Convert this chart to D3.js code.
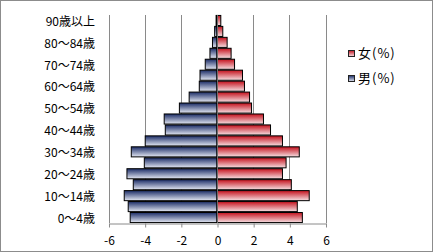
<!DOCTYPE html>
<html>
<head>
<meta charset="utf-8">
<script src="https://cdn.jsdelivr.net/npm/d3@7"></script>
<style>
    body { margin:0; background:#fff; }
    text { font-family: "Noto Sans CJK JP", "DejaVu Sans", sans-serif; fill:#000; }
</style>
</head>
<body>
<svg id="chart" width="433" height="252"></svg>
<script>
// age groups, youngest first
const ageGroups = ["0～4歳","5～9歳","10～14歳","15～19歳","20～24歳","25～29歳","30～34歳","35～39歳",
    "40～44歳","45～49歳","50～54歳","55～59歳","60～64歳","65～69歳","70～74歳","75～79歳",
    "80～84歳","85～89歳","90歳以上"];
// percent of population
const male = [4.80,4.91,5.13,4.63,4.98,4.02,4.74,3.97,2.86,2.92,2.08,1.54,0.98,0.94,0.65,0.39,0.25,0.13,0.05];
const female = [4.72,4.44,5.10,4.11,3.62,3.82,4.55,3.62,2.96,2.57,1.91,1.80,1.52,1.41,0.97,0.78,0.56,0.32,0.21];
const xTicks = [-6,-4,-2,0,2,4,6];
const legendNames = ["女(%)","男(%)"];

const svg = d3.select("#chart");

const defs = svg.append("defs");
function grad(id, top, bottom) {
    const g = defs.append("linearGradient").attr("id", id)
        .attr("x1",0).attr("y1",0).attr("x2",0).attr("y2",1);
    g.append("stop").attr("offset","0%").attr("stop-color",top);
    g.append("stop").attr("offset","100%").attr("stop-color",bottom);
}
grad("gMale", "#1b2c66", "#e4e8f3");
grad("gFemale", "#c4101c", "#f6e0e3");

// outer frame
svg.append("rect")
    .attr("x",0.5).attr("y",0.5)
    .attr("width",432).attr("height",251)
    .attr("fill","#fff").attr("stroke","#8c8c8c");

const x = d3.scaleLinear().domain([-6,6]).range([108.5,325.5]);
const y = d3.scaleBand()
    .domain(ageGroups.slice().reverse())
    .range([15,223])
    .paddingInner(0.08)
    .paddingOuter(0.04);

// vertical grid
svg.append("g").selectAll("line")
    .data(xTicks.filter(d => d !== 0))
    .join("line")
    .attr("x1", d => Math.round(x(d)) + 0.5).attr("x2", d => Math.round(x(d)) + 0.5)
    .attr("y1",15).attr("y2",223)
    .attr("stroke","#8a8a8a");

// male bars
svg.append("g").selectAll("rect")
    .data(ageGroups)
    .join("rect")
    .attr("x", (d,i) => x(-male[i]))
    .attr("y", d => y(d))
    .attr("width", (d,i) => x(0) - x(-male[i]))
    .attr("height", y.bandwidth())
    .attr("fill","url(#gMale)")
    .attr("stroke","#000").attr("stroke-width",1);

// female bars
svg.append("g").selectAll("rect")
    .data(ageGroups)
    .join("rect")
    .attr("x", x(0))
    .attr("y", d => y(d))
    .attr("width", (d,i) => x(female[i]) - x(0))
    .attr("height", y.bandwidth())
    .attr("fill","url(#gFemale)")
    .attr("stroke","#000").attr("stroke-width",1);

// category axis at zero
svg.append("line")
    .attr("x1", Math.round(x(0)) + 0.5).attr("x2", Math.round(x(0)) + 0.5)
    .attr("y1",15).attr("y2",223)
    .attr("stroke","#6e6e6e");

// category labels, every other group
svg.append("g").selectAll("text")
    .data(ageGroups.filter((d,i) => i % 2 === 0))
    .join("text")
    .attr("x",95)
    .attr("y", d => y(d) + y.bandwidth()/2 + 1)
    .attr("dy","0.36em")
    .attr("text-anchor","end")
    .attr("font-size",12)
    .text(d => d);

// value axis
const xAxis = d3.axisBottom(x)
    .tickValues(xTicks)
    .tickSize(4)
    .tickSizeOuter(0)
    .tickPadding(9)
    .tickFormat(d => d < 0 ? "-" + (-d) : String(d));

const gx = svg.append("g")
    .attr("transform","translate(0.5,223.5)")
    .call(xAxis);
gx.selectAll("path, line").attr("stroke","#8a8a8a");
gx.selectAll("text")
    .attr("font-size",12)
    .attr("font-family",'"Noto Sans CJK JP", sans-serif')
    .attr("fill","#000");

// legend
const legend = svg.append("g");
const legendFill = ["url(#gFemale)","url(#gMale)"];
legend.selectAll("rect")
    .data(legendNames)
    .join("rect")
    .attr("x",348.5)
    .attr("y",(d,i) => 50.5 + i*25)
    .attr("width",6).attr("height",6)
    .attr("fill",(d,i) => legendFill[i])
    .attr("stroke","#222");
legend.selectAll("text")
    .data(legendNames)
    .join("text")
    .attr("x",358)
    .attr("y",(d,i) => 53.5 + i*25)
    .attr("dy","0.36em")
    .attr("font-size",13)
    .attr("letter-spacing",1)
    .text(d => d);
</script>
</body>
</html>
